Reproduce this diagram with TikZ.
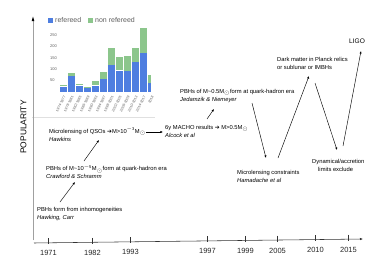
\documentclass[tikz,border=0pt]{standalone}
\usepackage{fontspec}
\setmainfont{Liberation Sans}
\newfontfamily\symfont{DejaVu Sans}
\usetikzlibrary{arrows.meta}
\definecolor{refblue}{RGB}{78,126,224}
\definecolor{refgreen}{RGB}{140,198,140}
\definecolor{axisgray}{RGB}{160,160,160}
\definecolor{labgray}{RGB}{95,95,95}
\newcommand{\Msun}{M\textsubscript{$\odot$}}
\newcommand{\harr}{{\symfont\char"2794}}
\begin{document}
\begin{tikzpicture}[x=1pt,y=-1pt,
  txt/.style={font=\fontsize{5.8}{8}\selectfont, inner sep=0pt, anchor=west, align=left},
  yearlab/.style={font=\fontsize{7.5}{8}\selectfont, inner sep=0pt, text=black!85},
  arr/.style={-{Latex[length=2.6pt,width=2.2pt]}, line width=0.45pt},
  barlab/.style={font=\fontsize{3.6}{4}\selectfont, inner sep=0pt, anchor=east, rotate=63, text=labgray},
  ticklab/.style={font=\fontsize{4}{4}\selectfont, inner sep=0pt, anchor=west, text=labgray},
  legtxt/.style={font=\fontsize{7}{8}\selectfont, inner sep=0pt, anchor=west, text=labgray}]
\useasboundingbox (0,0) rectangle (386,273);
\fill[white] (0,0) rectangle (386,273);

% ---- bar chart ----
\draw[black!12, line width=0.4pt] (32,117) -- (155,117);
\fill[refblue] (48,17.5) rectangle (53,22.5);
\node[legtxt] (leg1) at (55,20) {refereed};
\fill[refgreen] (88,17.5) rectangle (93,22.5);
\node[legtxt] (leg2) at (95,20) {non refereed};
\foreach \v/\yy in {250/35,200/46.4,150/57.8,100/69.2,50/80.6}
  \node[ticklab] at (50,\yy) {\v};
\foreach \i/\b/\t/\w/\lab in {0/25/30/6.5/1974-1977, 1/72/85/6.5/1978-1981, 2/29/34/6.5/1982-1985,
   3/18/21/6.5/1986-1989, 4/30/50/6.5/1990-1993, 5/57/87/6.5/1994-1997, 6/118/192/6.5/1998-2001,
   7/96/155/6.5/2002-2005, 8/93/159/6.5/2006-2009, 9/133/193/6.5/2010-2013, 10/172/279/6.5/2014-2017,
   11/41/73/3/2018}{
  \pgfmathsetmacro{\xl}{60+8*\i}
  \pgfmathsetmacro{\xr}{\xl+\w}
  \pgfmathsetmacro{\yb}{92-0.228*\b}
  \pgfmathsetmacro{\yt}{92-0.228*\t}
  \fill[refgreen] (\xl,\yt) rectangle (\xr,\yb);
  \fill[refblue] (\xl,\yb+0.4) rectangle (\xr,92);
  \node[barlab] at (\xl+4.8,96) {\lab};
}

% ---- axes ----
\draw[axisgray, line width=0.9pt] (33,240) -- (33,20);
\fill[black] (33,16.5) -- (31.7,21) -- (34.3,21) -- cycle;
\node[font=\fontsize{8.4}{9}\selectfont, rotate=90, inner sep=0pt] (pop) at (23.5,127) {POPULARITY};
\coordinate (xs) at (34,243);
\coordinate (xe) at (363,239);
\draw[black!80, line width=0.55pt, -{Latex[length=3pt,width=2.4pt]}] (xs) -- (xe);
\foreach \x/\yy/\lab in {48/242.8/1971, 92/242.3/1982, 130/241.8/1993, 207/240.9/1997,
   245/240.4/1999, 277/240.0/2005, 315/239.6/2010, 348/239.2/2015}{
  \draw[black!80, line width=0.55pt] (\x,\yy-4.5) -- (\x,\yy+1.5);
  \node[yearlab] at (\x+0.5,\yy+10.5) {\lab};
}

% ---- texts ----
\node[txt] (t1) at (37,214) {PBHs form from inhomogeneities\\\textit{Hawking, Carr}};
\node[txt] (t2) at (46,172) {PBHs of M\textasciitilde10\textsuperscript{$-$5}\Msun form at quark-hadron era\\\textit{Crawford \& Schramm}};
\node[txt] (t3) at (49,134.5) {Microlensing of QSOs \harr M>10\textsuperscript{$-$3}\Msun\\\textit{Hawkins}};
\node[txt] (t4) at (165,131) {6y MACHO results \harr\ M>0.5\Msun\\\textit{Alcock et al}};
\node[txt] (t5) at (180,96) {PBHs of M\textasciitilde0.5\Msun form at quark-hadron era\\\textit{Jedamzik \& Niemeyer}};
\node[txt] (t6) at (237,176) {Microlensing constraints\\\textit{Hamadache et al}};
\node[txt] (t7) at (277,63.5) {Dark matter in Planck relics\\or sublunar or IMBHs};
\node[txt] (t8) at (312,165) {Dynamical/accretion\\\hspace{6pt}limits exclude};
\node[font=\fontsize{6.6}{8}\selectfont, inner sep=0pt] (ligo) at (357,41) {LIGO};

% ---- connectors ----
\coordinate (a1s) at (60,202);  \coordinate (a1e) at (75,182);
\coordinate (a2s) at (84,161);  \coordinate (a2e) at (99,140);
\coordinate (a3s) at (146,132); \coordinate (a3e) at (163,132);
\coordinate (a4s) at (207,119); \coordinate (a4e) at (214,109);
\coordinate (a5s) at (252,103); \coordinate (a5e) at (266,158);
\coordinate (a6s) at (278,158); \coordinate (a6e) at (309,76);
\coordinate (a7s) at (315,83);  \coordinate (a7e) at (337,150);
\coordinate (a8s) at (343,146); \coordinate (a8e) at (361,51);
\foreach \k in {1,...,8} \draw[arr] (a\k s) -- (a\k e);
\end{tikzpicture}
\end{document}
